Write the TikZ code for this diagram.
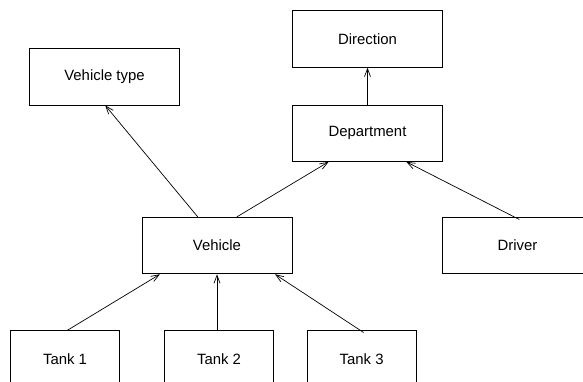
\documentclass[tikz,border=0pt]{standalone}
\usepackage{fontspec}
\setmainfont{Liberation Sans}
\usetikzlibrary{arrows.meta}
\tikzset{
  box/.style={draw, line width=0.8pt, rectangle, minimum width=150pt, minimum height=56.5pt, inner sep=0pt, font=\fontsize{14.9}{17}\selectfont},
  tankbox/.style={box, minimum width=109.3pt},
  link/.style={draw, line width=0.7pt, -{Straight Barb[length=8pt,width=6pt]}}
}
\begin{document}
\begin{tikzpicture}[x=1pt,y=-1pt]
\useasboundingbox (0,0) rectangle (583,381);
\clip (0,0) rectangle (583,381);
\node[box] (dir) at (367.5,39) {Direction};
\node[box] (vt) at (104.5,76.7) {Vehicle type};
\node[box] (dep) at (367.5,133.2) {Department};
\node[box] (veh) at (217,245.6) {Vehicle};
\node[box] (drv) at (517.4,245.6) {Driver};
\node[tankbox] (t1) at (65,359) {Tank 1};
\node[tankbox] (t2) at (219,359) {Tank 2};
\node[tankbox] (t3) at (361.6,359) {Tank 3};
\coordinate (drvs) at (519.3,219.5);
\coordinate (t3s) at (363.6,332.5);
\draw[link] (veh.north -| 197.8,0) -- (vt.south -| 105.2,0);
\draw[link] (veh.north -| 236.8,0) -- (dep.south -| 328.6,0);
\draw[link] (drvs) -- (dep.south -| 406.3,0);
\draw[link] (dep.north) -- (dir.south);
\draw[link] (t1.north -| 67.3,0) -- (veh.south -| 159.9,0);
\draw[link] (t2.north -| 217,0) -- (veh.south -| 217,0);
\draw[link] (t3s) -- (veh.south -| 275,0);
\end{tikzpicture}
\end{document}
